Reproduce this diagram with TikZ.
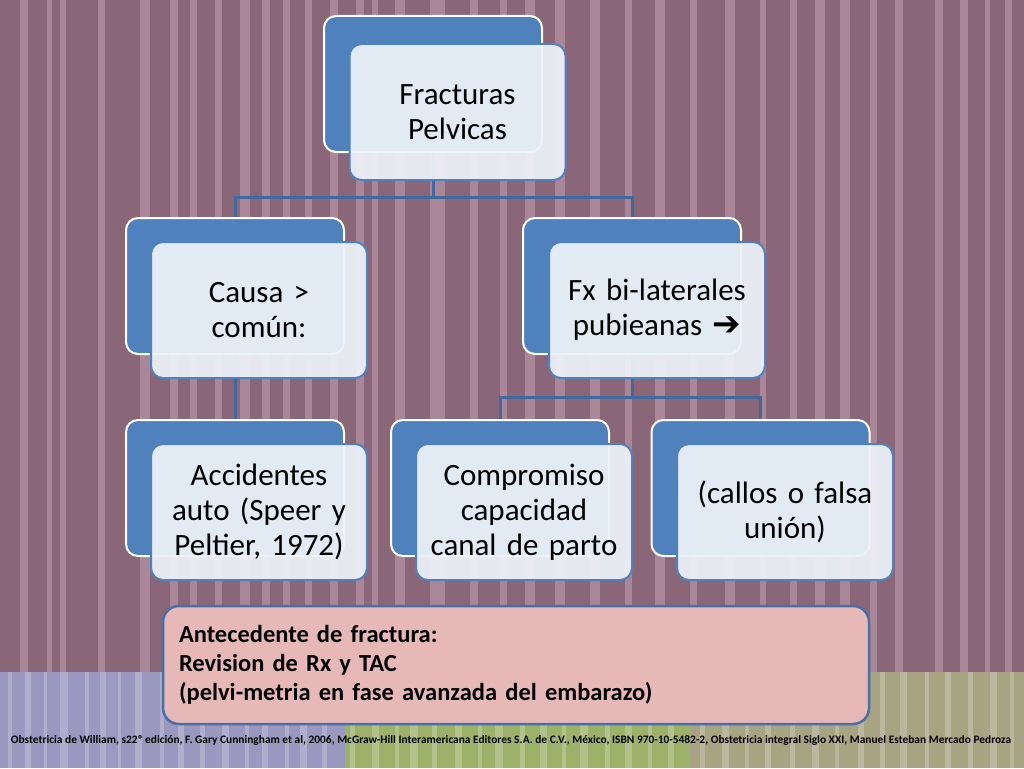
\documentclass[tikz,border=0pt]{standalone}
\usepackage{fontspec}
\setmainfont{Carlito}
\newfontfamily\arrowfont{DejaVu Sans}
\definecolor{mauve}{HTML}{8A6679}
\definecolor{mauvelight}{HTML}{C09DAE}
\definecolor{boxblue}{HTML}{4F81BD}
\definecolor{linkblue}{HTML}{41699E}
\definecolor{boxpale}{HTML}{EEF2F8}
\definecolor{notepink}{HTML}{E6B8B8}
\definecolor{noteline}{HTML}{4A6FA5}
\definecolor{bandlav}{HTML}{9A98BE}
\definecolor{bandgreen}{HTML}{9CB26A}
\definecolor{bandbeige}{HTML}{A8A383}

\begin{document}
\begin{tikzpicture}[x=1pt,y=-1pt,
    backbox/.style={rectangle,rounded corners=12pt,draw=white,line width=2pt,
      fill=boxblue,minimum width=218pt,minimum height=136pt},
    frontbox/.style={rectangle,rounded corners=12pt,draw=boxblue,line width=2pt,
      fill=boxpale,fill opacity=.93,text opacity=1,minimum width=216pt,
      minimum height=136pt,text width=206pt,align=center,
      font=\fontsize{31}{35}\selectfont},
    link/.style={draw=linkblue,line width=3pt}]
  % background
  \fill[mauve] (0,0) rectangle (1024,768);
  \foreach \x/\w in {20/8,47/5,60/6,98/7,140/10,170/8,190/7,215/7,240/10,262/8,
      283/7,305/7,330/8,356/8,372/6,395/10,430/15,470/8,500/7,525/10,555/10,
      590/10,625/7,655/10,690/7,725/10,760/6,790/7,815/10,840/10,870/7,895/8,
      935/8,960/8,985/5,1005/7}
    \fill[mauvelight,opacity=.6] (\x,0) rectangle ++(\w,672);
  % bottom band
  \fill[bandlav] (0,672) rectangle (345,768);
  \fill[bandgreen] (345,672) rectangle (690,768);
  \fill[bandbeige] (690,672) rectangle (1024,768);
  \foreach \x/\w in {8/4,25/6,44/3,60/8,85/4,100/6,118/3,135/7,160/4,178/6,
      200/5,222/7,245/4,262/6,285/4,300/7,322/5,350/5,372/7,395/4,410/8,
      432/5,455/7,478/4,495/8,520/5,540/7,562/4,580/8,605/5,625/7,648/4,
      668/6,700/5,722/7,745/4,765/6,790/5,812/7,835/4,858/6,880/5,900/7,
      925/4,945/6,968/5,990/7,1010/4}
    \fill[white,opacity=.22] (\x,672) rectangle ++(\w,96);

  % connectors
  \node[backbox] (fracB) at (433,84) {};
  \node[backbox] (causaB) at (235,286) {};
  \node[backbox] (fxB) at (632,286) {};
  \node[backbox] (accB) at (235,488) {};
  \node[backbox] (compB) at (500,488) {};
  \node[backbox] (callB) at (760.5,488) {};
  \draw[link] (causaB.north) -- ++(0,-20) -| (fracB.south);
  \draw[link] (fxB.north) -- ++(0,-20) -| (fracB.south);
  \draw[link] (causaB.south) -- (accB.north);
  \draw[link] (compB.north) -- ++(0,-22) -| (fxB.south);
  \draw[link] (callB.north) -- ++(0,-22) -| (fxB.south);

  % front boxes
  \node[frontbox] (frac) at (457.5,112) {Fracturas\\Pelvicas};
  \node[frontbox] (causa) at (259,310) {Causa >\\común:};
  \node[frontbox] (fx) at (657,310) {Fx bi-laterales\\pubieanas {\arrowfont\fontsize{34}{35}\selectfont ➔}};
  \node[frontbox] (acc) at (259,512) {Accidentes\\auto (Speer y\\Peltier, 1972)};
  \node[frontbox] (comp) at (524,512) {Compromiso\\capacidad\\canal de parto};
  \node[frontbox] (call) at (785,512) {(callos o falsa\\unión)};

  % note
  \node[rectangle,rounded corners=16pt,draw=noteline,line width=2.5pt,
    fill=notepink,minimum width=706pt,minimum height=118pt,text width=674pt,
    align=left,font=\bfseries\fontsize{24.5}{29}\selectfont] (note) at (516,665)
    {Antecedente de fractura:\\Revision de Rx y TAC\\(pelvi-metria en fase avanzada del embarazo)};

  % footer
  \node[font=\bfseries\fontsize{11.4}{13}\selectfont,inner sep=0pt] (ref) at (511,740)
    {Obstetricia de William, s22º edición, F. Gary Cunningham et al, 2006, McGraw-Hill Interamericana Editores S.A. de C.V., México, ISBN 970-10-5482-2, Obstetricia integral Siglo XXI, Manuel Esteban Mercado Pedroza};
\end{tikzpicture}
\end{document}
